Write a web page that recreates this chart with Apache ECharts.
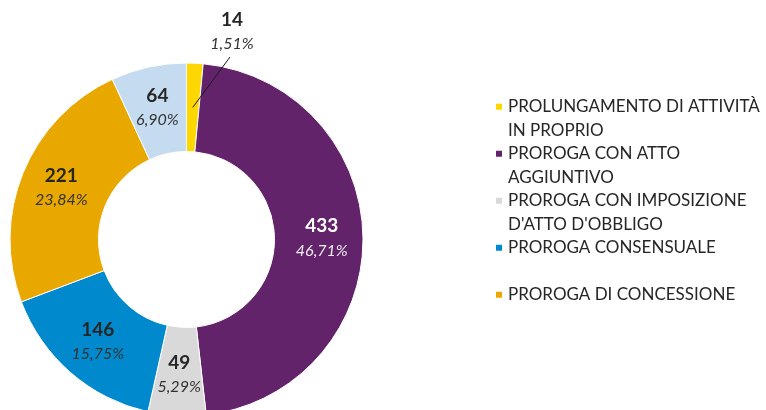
<!DOCTYPE html>
<html>
<head>
<meta charset="utf-8">
<script src="https://cdn.jsdelivr.net/npm/echarts@6/dist/echarts.min.js"></script>
<style>html,body{margin:0;padding:0;background:#fff;}#c{width:766px;height:410px;}</style>
</head>
<body>
<div id="c"></div>
<script>
const categories = [
  'PROLUNGAMENTO DI ATTIVITÀ IN PROPRIO',
  'PROROGA CON ATTO AGGIUNTIVO',
  'PROROGA CON IMPOSIZIONE D\'ATTO D\'OBBLIGO',
  'PROROGA CONSENSUALE',
  'PROROGA DI CONCESSIONE',
  'ALTRO'
];
const values = [14, 433, 49, 146, 221, 64];
const colors = ['#FFD700', '#62236A', '#D9D9D9', '#0089CC', '#E8A800', '#C5DCF0'];
const legendNames = categories.slice(0, 5);
const legendLabels = [
  'PROLUNGAMENTO DI ATTIVITÀ\nIN PROPRIO',
  'PROROGA CON ATTO\nAGGIUNTIVO',
  'PROROGA CON IMPOSIZIONE\nD\'ATTO D\'OBBLIGO',
  'PROROGA CONSENSUALE\n\u00a0',
  'PROROGA DI CONCESSIONE\n\u00a0'
];

const FONT = 'Lato';
const cx = 186.5, cy = 239.5, rIn = 88, rOut = 176.5;
const total = values.reduce((a, b) => a + b, 0);

const richStyles = {
  v: { fontFamily: FONT, fontWeight: 'bold', fontSize: 19, lineHeight: 24, color: '#262626', align: 'center' },
  p: { fontFamily: FONT, fontStyle: 'italic', fontSize: 16, lineHeight: 24, color: '#333333', align: 'center' }
};
function labelText(p) {
  return '{v|' + p.value + '}\n{p|' + p.percent.toFixed(2).replace('.', ',') + '%}';
}

const mainData = values.map((v, i) => {
  const item = { name: categories[i], value: v, itemStyle: { color: colors[i] } };
  if (i === 1) item.label = { rich: { v: { color: '#ffffff' }, p: { color: '#EDEDED' } } };
  if (i === 0) item.label = { show: false };
  return item;
});

const overlayData = values.map((v, i) => {
  const item = { name: categories[i], value: v, label: { show: false }, labelLine: { show: false } };
  if (i === 0) {
    item.label = { show: true, position: 'outside' };
    item.labelLine = { show: true, length: 20, length2: 0, lineStyle: { color: '#1a1a1a', width: 1 } };
  }
  return item;
});

const chart = echarts.init(document.getElementById('c'), null, { renderer: 'canvas' });
chart.setOption({
  animation: false,
  backgroundColor: '#ffffff',
  legend: {
    orient: 'vertical',
    left: 489,
    top: 66.5,
    padding: 5,
    icon: 'rect',
    itemWidth: 8,
    itemHeight: 8,
    itemGap: -23.5,
    selectedMode: false,
    data: legendNames,
    formatter: function (name) {
      return '\n' + legendLabels[legendNames.indexOf(name)];
    },
    textStyle: { fontFamily: FONT, fontSize: 17, color: '#262626', lineHeight: 23.5 }
  },
  series: [{
    type: 'pie',
    z: 2,
    center: [cx, cy],
    radius: [rIn, rOut],
    startAngle: 90,
    clockwise: true,
    avoidLabelOverlap: false,
    itemStyle: { borderColor: '#ffffff', borderWidth: 1 },
    label: { show: true, position: 'inside', formatter: labelText, rich: richStyles },
    labelLine: { show: false },
    data: mainData
  }, {
    type: 'pie',
    z: 5,
    silent: true,
    center: [cx, cy],
    radius: [rIn, rOut],
    startAngle: 90,
    clockwise: true,
    avoidLabelOverlap: false,
    itemStyle: { color: 'rgba(0,0,0,0)', borderWidth: 0 },
    label: { formatter: labelText, rich: richStyles },
    labelLayout: function (params) {
      if (params.dataIndex !== 0) return {};
      const ang = (values[0] / total) * Math.PI; // half-slice angle, clockwise from top
      const rMid = (rIn + rOut) / 2;
      const sx = cx + rMid * Math.sin(ang);
      const sy = cy - rMid * Math.cos(ang);
      const lx = 232, ly = 32;
      return {
        x: lx, y: ly, align: 'center', verticalAlign: 'middle',
        labelLinePoints: [[sx, sy], [lx - 2, ly + 25], [lx - 2, ly + 25]]
      };
    },
    data: overlayData
  }]
});
</script>
</body>
</html>
